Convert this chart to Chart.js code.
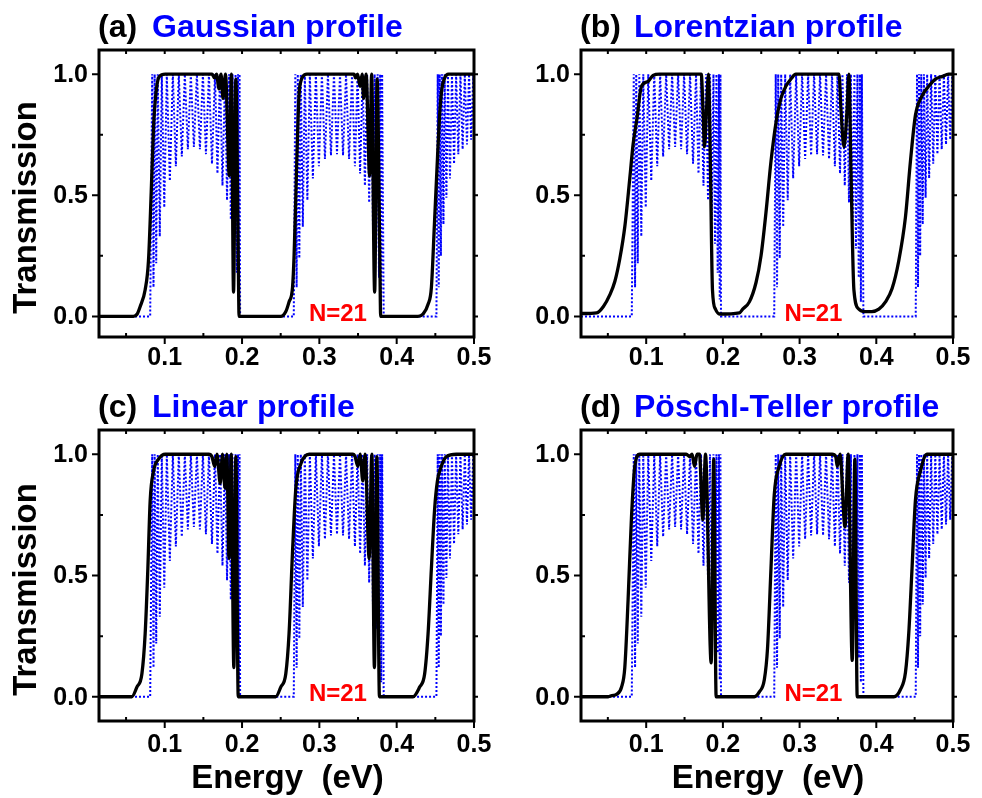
<!DOCTYPE html>
<html>
<head>
<meta charset="utf-8">
<script src="https://cdn.jsdelivr.net/npm/chart.js@4.4.1/dist/chart.umd.min.js"></script>
<style>
  html, body { margin: 0; padding: 0; background: #fff; }
  #page { position: relative; width: 982px; height: 798px; overflow: hidden; background: #fff; }
  #page canvas { position: absolute; left: 0; top: 0; width: 982px; height: 798px; }
</style>
</head>
<body>
<div id="page">
  <canvas id="panelA" width="982" height="798"></canvas>
  <canvas id="panelB" width="982" height="798"></canvas>
  <canvas id="panelC" width="982" height="798"></canvas>
  <canvas id="panelD" width="982" height="798"></canvas>
</div>
<script>
// Transmission vs energy, N=21, four potential profiles

// axis ticks
const X_MAJOR = [0.1, 0.2, 0.3, 0.4, 0.5];
const X_MINOR = [0.05, 0.15, 0.25, 0.35, 0.45];
const Y_MAJOR = [0.0, 0.5, 1.0];
const Y_MINOR = [0.25, 0.75];

// reference periodic lattice (blue dotted), same in all panels
const blueE = [0.015, 0.0812,
  0.0838, 0.0855, 0.0870, 0.0890, 0.0910, 0.0936, 0.0962, 0.0994, 0.1027, 0.1066,
  0.1105, 0.1144, 0.1182, 0.1221, 0.1260, 0.1299, 0.1338, 0.1377, 0.1416, 0.1455,
  0.1494, 0.1533, 0.1572, 0.1611, 0.1650, 0.1682, 0.1715, 0.1747, 0.1780, 0.1806,
  0.1832, 0.1855, 0.1877, 0.1897, 0.1916, 0.1932, 0.1948, 0.1959, 0.1968, 0.1975,
  0.2669,
  0.2689, 0.2706, 0.2721, 0.2741, 0.2760, 0.2786, 0.2812, 0.2845, 0.2877, 0.2916,
  0.2955, 0.2994, 0.3033, 0.3072, 0.3111, 0.3150, 0.3189, 0.3228, 0.3267, 0.3306,
  0.3345, 0.3384, 0.3423, 0.3460, 0.3494, 0.3527, 0.3559, 0.3589, 0.3618, 0.3644,
  0.3669, 0.3693, 0.3715, 0.3734, 0.3754, 0.3771, 0.3786, 0.3799, 0.3812, 0.3832,
  0.4514,
  0.4531, 0.4544, 0.4557, 0.4572, 0.4586, 0.4605, 0.4621, 0.4643, 0.4663, 0.4689,
  0.4715, 0.4742, 0.4769, 0.4797, 0.4825, 0.4853, 0.4881, 0.4909, 0.4936, 0.4963,
  0.4991, 0.5020, 0.5046];
const blueT = [0, 0,
  1, 0.12, 1, 0.22, 1, 0.33, 1, 0.45, 1, 0.56, 1, 0.62, 1, 0.66, 1, 0.69, 1, 0.70,
  1, 0.69, 1, 0.67, 1, 0.63, 1, 0.59, 1, 0.54, 1, 0.48, 1, 0.40, 1, 0.30, 1, 0.18,
  1, 0.07, 1, 0,
  0,
  1, 0.12, 1, 0.24, 1, 0.37, 1, 0.48, 1, 0.57, 1, 0.62, 1, 0.65, 1, 0.665, 1, 0.67,
  1, 0.665, 1, 0.65, 1, 0.62, 1, 0.59, 1, 0.54, 1, 0.47, 1, 0.38, 1, 0.28, 1, 0.16,
  1, 0.06, 1, 0,
  0,
  1, 0.12, 1, 0.25, 1, 0.38, 1, 0.49, 1, 0.57, 1, 0.63, 1, 0.67, 1, 0.69, 1, 0.71,
  1, 0.73, 1, 0.74, 1];

// (a) Gaussian profile
const gaussE = [0.015, 0.0595, 0.0644, 0.0682, 0.0747, 0.0790, 0.0825, 0.0855, 0.0886, 0.0929,
  0.1007, 0.1614, 0.1643, 0.1670, 0.1702, 0.1728, 0.1754, 0.1786, 0.1836, 0.1862,
  0.1890, 0.1920, 0.1949, 0.1962,
  0.2501, 0.2566, 0.2608, 0.2653, 0.2673, 0.2696, 0.2718, 0.2738, 0.2760, 0.2786,
  0.2838, 0.3450, 0.3468, 0.3494, 0.3527, 0.3553, 0.3572, 0.3605, 0.3650, 0.3676,
  0.3715, 0.3747, 0.3780, 0.3793,
  0.4276, 0.4341, 0.4406, 0.4449, 0.4488, 0.4527, 0.4559, 0.4585, 0.4621, 0.4670, 0.505];
const gaussT = [0, 0, 0.01, 0.04, 0.11, 0.23, 0.51, 0.78, 0.92, 0.99,
  1, 1, 0.985, 1, 0.94, 1, 0.90, 1, 0.58, 1,
  0.10, 0.98, 0.30, 0,
  0, 0.02, 0.06, 0.12, 0.25, 0.50, 0.75, 0.92, 0.97, 0.99,
  1, 1, 0.985, 1, 0.95, 1, 0.90, 1, 0.58, 1,
  0.10, 0.98, 0.30, 0,
  0, 0.01, 0.05, 0.12, 0.38, 0.65, 0.85, 0.94, 0.985, 1, 1];

// (b) Lorentzian profile
const lorentzE = [0.015, 0.0354, 0.0440, 0.0527, 0.0592, 0.0657, 0.0721, 0.0786, 0.0829, 0.0881,
  0.0938, 0.1024, 0.1089, 0.1176, 0.1718, 0.1741, 0.1760, 0.1786, 0.1812, 0.1838,
  0.1864, 0.1903, 0.1955, 0.2215, 0.2258, 0.2345, 0.2432, 0.2497, 0.2562, 0.2627,
  0.2692, 0.2757, 0.2821, 0.2886, 0.2951, 0.3514, 0.3540, 0.3579, 0.3618, 0.3643,
  0.3670, 0.3708, 0.3773, 0.3851, 0.3942, 0.4033, 0.4120, 0.4206, 0.4293, 0.4380,
  0.4445, 0.4510, 0.4596, 0.4683, 0.4770, 0.4855, 0.4942, 0.505];
const lorentzT = [0.012, 0.015, 0.04, 0.09, 0.145, 0.24, 0.37, 0.57, 0.71, 0.82,
  0.95, 0.97, 0.995, 1, 1, 0.85, 0.70, 0.85, 1, 0.6,
  0.11, 0.03, 0.01, 0.015, 0.03, 0.06, 0.14, 0.25, 0.43, 0.64,
  0.80, 0.90, 0.95, 0.98, 1, 1, 0.85, 0.70, 0.85, 1,
  0.6, 0.11, 0.03, 0.02, 0.02, 0.03, 0.06, 0.115, 0.23, 0.41,
  0.64, 0.83, 0.91, 0.95, 0.98, 0.99, 1, 1];

// (c) Linear profile
const linearE = [0.015, 0.0575, 0.0640, 0.0705, 0.0747, 0.0782, 0.0812, 0.0855, 0.0920, 0.1007,
  0.1569, 0.1611, 0.1647, 0.1676, 0.1718, 0.1747, 0.1780, 0.1803, 0.1832, 0.1860,
  0.1894, 0.1920, 0.1951,
  0.2436, 0.2501, 0.2566, 0.2608, 0.2653, 0.2696, 0.2760, 0.2868, 0.3432, 0.3462,
  0.3497, 0.3527, 0.3562, 0.3592, 0.3644, 0.3679, 0.3712, 0.3744, 0.3777,
  0.4211, 0.4297, 0.4362, 0.4406, 0.4449, 0.4492, 0.4527, 0.4556, 0.4643, 0.4773, 0.505];
const linearT = [0, 0, 0.04, 0.095, 0.26, 0.53, 0.81, 0.93, 0.98, 1,
  1, 0.99, 0.95, 1, 0.88, 1, 0.86, 1, 0.57, 1,
  0.12, 0.99, 0,
  0, 0.04, 0.095, 0.26, 0.60, 0.86, 0.96, 1, 1, 0.99,
  0.95, 1, 0.89, 1, 0.57, 1, 0.12, 0.99, 0,
  0, 0.04, 0.095, 0.26, 0.53, 0.78, 0.89, 0.93, 0.99, 1, 1];

// (d) Pöschl-Teller profile
const poschlE = [0.015, 0.0505, 0.0553, 0.0614, 0.0679, 0.0721, 0.0764, 0.0808, 0.0851, 0.0916,
  0.1523, 0.1566, 0.1598, 0.1630, 0.1663, 0.1695, 0.1738, 0.1773, 0.1847, 0.1881, 0.1912,
  0.2410, 0.2475, 0.2540, 0.2582, 0.2627, 0.2669, 0.2734, 0.2821, 0.3423, 0.3471,
  0.3492, 0.3527, 0.3592, 0.3634, 0.3686, 0.3721, 0.3751,
  0.4228, 0.4315, 0.4380, 0.4423, 0.4466, 0.4510, 0.4575, 0.4660, 0.505];
const poschlT = [0, 0, 0.005, 0.01, 0.04, 0.12, 0.40, 0.74, 0.95, 1,
  1, 0.99, 1, 0.95, 1, 1, 0.73, 1, 0.14, 0.98, 0,
  0, 0.02, 0.07, 0.20, 0.53, 0.83, 0.95, 1, 1, 0.99,
  0.95, 1, 0.70, 1, 0.15, 0.98, 0,
  0, 0.03, 0.10, 0.26, 0.53, 0.81, 0.93, 1, 1];

const FONT = '"Liberation Sans", Arial, Helvetica, sans-serif';
const BLUE = '#0000ff';

function toPoints(xs, ys) {
  return xs.map((x, i) => ({ x: x, y: ys[i] }));
}

// frame, ticks and all texts, placed through the chart scales
const framePlugin = {
  id: 'frame',
  afterDraw(chart, args, o) {
    const { ctx, chartArea: a } = chart;
    const sx = chart.scales.x, sy = chart.scales.y;
    ctx.save();
    ctx.strokeStyle = '#000';
    ctx.lineWidth = 2;
    ctx.beginPath();
    X_MAJOR.forEach(v => {
      const p = sx.getPixelForValue(v);
      ctx.moveTo(p, a.bottom); ctx.lineTo(p, a.bottom + 7);
      ctx.moveTo(p, a.top); ctx.lineTo(p, a.top + 4);
    });
    X_MINOR.forEach(v => {
      const p = sx.getPixelForValue(v);
      ctx.moveTo(p, a.bottom); ctx.lineTo(p, a.bottom - 4);
      ctx.moveTo(p, a.top); ctx.lineTo(p, a.top + 4);
    });
    Y_MAJOR.forEach(v => {
      const p = sy.getPixelForValue(v);
      ctx.moveTo(a.left, p); ctx.lineTo(a.left - 7, p);
      ctx.moveTo(a.right, p); ctx.lineTo(a.right + 4, p);
    });
    Y_MINOR.forEach(v => {
      const p = sy.getPixelForValue(v);
      ctx.moveTo(a.left, p); ctx.lineTo(a.left + 4, p);
      ctx.moveTo(a.right, p); ctx.lineTo(a.right + 4, p);
    });
    ctx.stroke();
    ctx.lineWidth = 3;
    ctx.strokeRect(a.left, a.top, a.right - a.left, a.bottom - a.top);

    // tick labels
    ctx.fillStyle = '#000';
    ctx.font = 'bold 25px ' + FONT;
    ctx.textAlign = 'right';
    ctx.textBaseline = 'middle';
    Y_MAJOR.forEach(v => ctx.fillText(v.toFixed(1), a.left - 11, sy.getPixelForValue(v) + 1));
    ctx.textAlign = 'center';
    ctx.textBaseline = 'top';
    X_MAJOR.forEach(v => ctx.fillText(v.toFixed(1), sx.getPixelForValue(v), a.bottom + o.xLabelGap));

    // panel title
    ctx.font = 'bold 32px ' + FONT;
    ctx.textAlign = 'left';
    ctx.textBaseline = 'alphabetic';
    ctx.fillText(o.tag, a.left - 1, a.top - 13);
    ctx.fillStyle = BLUE;
    ctx.fillText(o.name, a.left + 53, a.top - 13);

    // N=21
    ctx.fillStyle = '#ff0000';
    ctx.font = 'bold 24px ' + FONT;
    ctx.textAlign = 'center';
    ctx.textBaseline = 'middle';
    ctx.fillText('N=21', sx.getPixelForValue(o.nX), sy.getPixelForValue(0.01));

    // axis titles
    ctx.fillStyle = '#000';
    ctx.font = 'bold 33px ' + FONT;
    if (o.yTitle) {
      ctx.save();
      ctx.translate(a.left - 72, (a.top + a.bottom) / 2 + 14);
      ctx.rotate(-Math.PI / 2);
      ctx.textBaseline = 'middle';
      ctx.fillText('Transmission', 0, 0);
      ctx.restore();
    }
    if (o.xTitle) {
      ctx.textBaseline = 'alphabetic';
      ctx.fillText('Energy  (eV)', (a.left + a.right) / 2 + 1, a.bottom + 67);
    }
    ctx.restore();
  }
};

function makePanel(id, energy, trans, pad, yMin, frame) {
  return new Chart(document.getElementById(id), {
    type: 'line',
    data: {
      datasets: [
        {
          data: toPoints(energy, trans),
          borderColor: '#000',
          borderWidth: 3.3,
          pointRadius: 0,
          cubicInterpolationMode: 'monotone',
          borderJoinStyle: 'round',
          fill: false,
        },
        {
          data: toPoints(blueE, blueT),
          borderColor: BLUE,
          borderWidth: 2,
          borderDash: [2, 2],
          pointRadius: 0,
          tension: 0,
          fill: false,
        }
      ]
    },
    options: {
      responsive: false,
      animation: false,
      devicePixelRatio: 1,
      events: [],
      layout: { padding: pad },
      plugins: { legend: { display: false }, tooltip: { enabled: false }, frame: frame },
      scales: {
        x: { type: 'linear', min: 0.015, max: 0.5, display: false },
        y: { type: 'linear', min: yMin, max: 1.1, display: false }
      }
    },
    plugins: [framePlugin]
  });
}

makePanel('panelA', gaussE, gaussT, { left: 99, right: 508, top: 50, bottom: 461 }, -0.085,
  { tag: '(a)', name: 'Gaussian profile', nX: 0.324, yTitle: true, xTitle: false, xLabelGap: 9 });
makePanel('panelB', lorentzE, lorentzT, { left: 581, right: 29, top: 50, bottom: 461 }, -0.085,
  { tag: '(b)', name: 'Lorentzian profile', nX: 0.318, yTitle: false, xTitle: false, xLabelGap: 9 });
makePanel('panelC', linearE, linearT, { left: 99, right: 508, top: 430, bottom: 77 }, -0.1,
  { tag: '(c)', name: 'Linear profile', nX: 0.324, yTitle: true, xTitle: true, xLabelGap: 12 });
makePanel('panelD', poschlE, poschlT, { left: 581, right: 29, top: 430, bottom: 77 }, -0.1,
  { tag: '(d)', name: 'Pöschl-Teller profile', nX: 0.318, yTitle: false, xTitle: true, xLabelGap: 12 });
</script>
</body>
</html>
